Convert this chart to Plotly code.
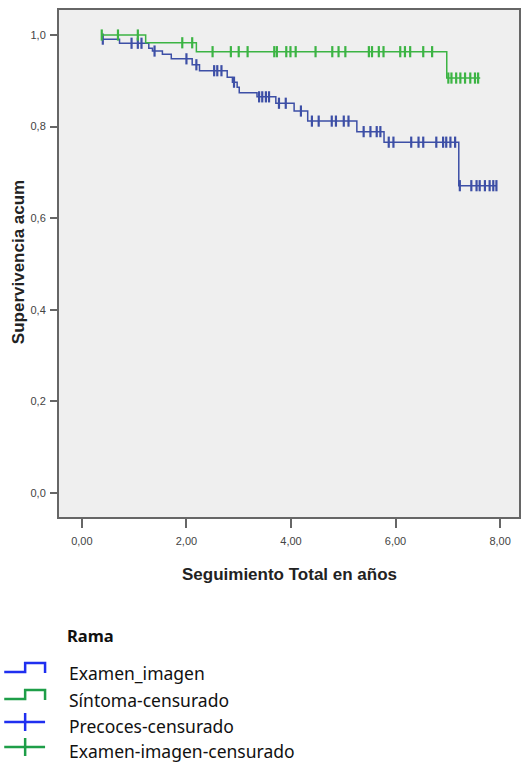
import plotly.graph_objects as go

# ---------------- data ----------------
# Examen_imagen (blue) Kaplan-Meier steps
blue_times = [0.38, 0.72, 1.28, 1.35, 1.54, 1.71, 2.11, 2.25, 2.78, 2.88, 2.97, 3.01,
              3.35, 3.71, 4.06, 4.32, 5.26, 5.78, 7.21]
blue_surv = [0.991, 0.982, 0.971, 0.965, 0.958, 0.948, 0.935, 0.922, 0.908, 0.897, 0.886, 0.874,
             0.865, 0.851, 0.834, 0.812, 0.789, 0.766, 0.671]
blue_end = 7.93
blue_censored = [0.40, 0.95, 1.07, 1.14, 1.39, 2.00, 2.19, 2.53, 2.59, 2.67, 2.91, 3.39, 3.45,
                 3.52, 3.58, 3.77, 3.90, 4.19, 4.40, 4.53, 4.78, 4.86, 5.01, 5.10, 5.39, 5.52,
                 5.64, 5.71, 5.87, 5.96, 6.30, 6.44, 6.53, 6.78, 6.91, 6.97, 7.05, 7.14, 7.23,
                 7.45, 7.55, 7.61, 7.71, 7.80, 7.87, 7.93]

# Síntoma (green) Kaplan-Meier steps
green_times = [0.38, 1.22, 2.19, 6.98]
green_surv = [1.0, 0.983, 0.9636, 0.906]
green_end = 7.62
green_censored = [0.38, 0.69, 1.07, 1.92, 2.11, 2.50, 2.85, 3.00, 3.17, 3.68, 3.73, 3.91, 3.99,
                  4.09, 4.47, 4.79, 4.91, 5.04, 5.49, 5.55, 5.68, 5.77, 6.09, 6.18, 6.28, 6.53,
                  6.70, 7.01, 7.07, 7.16, 7.24, 7.33, 7.43, 7.52, 7.58]

y_ticks = [0.0, 0.2, 0.4, 0.6, 0.8, 1.0]
y_ticktext = ["0,0", "0,2", "0,4", "0,6", "0,8", "1,0"]
x_ticks = [0, 2, 4, 6, 8]
x_ticktext = ["0,00", "2,00", "4,00", "6,00", "8,00"]

legend_title = "Rama"
legend_labels = ["Examen_imagen", "Síntoma-censurado", "Precoces-censurado", "Examen-imagen-censurado"]

# ---------------- styles ----------------
BLUE = "#3d4fa6"
GREEN = "#3cb444"
LEG_BLUE = "#1f2ff0"
LEG_GREEN = "#1e9e48"
AXFONT = "Liberation Sans Narrow, Liberation Sans, sans-serif"


def step_value(times, surv, t):
    v = surv[0]
    for ti, si in zip(times, surv):
        if t >= ti:
            v = si
    return v


fig = go.Figure()

for times, surv, end, cens, col in [
    (blue_times, blue_surv, blue_end, blue_censored, BLUE),
    (green_times, green_surv, green_end, green_censored, GREEN),
]:
    fig.add_trace(go.Scatter(
        x=times + [end], y=surv + [surv[-1]], mode="lines",
        line=dict(color=col, width=1.5, shape="hv"), showlegend=False, hoverinfo="skip"))
    fig.add_trace(go.Scatter(
        x=cens, y=[step_value(times, surv, t) for t in cens], mode="markers",
        marker=dict(symbol="line-ns", size=8, line=dict(color=col, width=2.2)),
        showlegend=False, hoverinfo="skip"))

# plot area in pixels
L, R, T, B = 59, 521, 10, 517
W, H = 524, 763


def px(x):
    return (x - L) / (R - L)


def py(y):
    return (B - y) / (B - T)


shapes = []
annotations = []

# legend title
annotations.append(dict(x=px(65), y=py(635), xref="paper", yref="paper", text="<b>%s</b>" % legend_title,
                        showarrow=False, xanchor="left", yanchor="middle",
                        font=dict(family="Noto Sans", size=16.5, color="#111")))

leg_rows = [673, 700, 726, 751]
leg_cols = [LEG_BLUE, LEG_GREEN, LEG_BLUE, LEG_GREEN]
for i, (lab, yc, col) in enumerate(zip(legend_labels, leg_rows, leg_cols)):
    annotations.append(dict(x=px(67), y=py(yc), xref="paper", yref="paper", text=lab,
                            showarrow=False, xanchor="left", yanchor="middle",
                            font=dict(family="Noto Sans", size=17.5, color="#111")))
    if i < 2:
        path = "M %f %f L %f %f L %f %f L %f %f L %f %f" % (
            px(4), py(yc - 1), px(25), py(yc - 1), px(25), py(yc - 10), px(45), py(yc - 10), px(45), py(yc))
        shapes.append(dict(type="path", path=path, xref="paper", yref="paper",
                           line=dict(color=col, width=2.5)))
    else:
        yy = yc - 4
        shapes.append(dict(type="line", x0=px(4), x1=px(45), y0=py(yy), y1=py(yy),
                           xref="paper", yref="paper", line=dict(color=col, width=2.5)))
        shapes.append(dict(type="line", x0=px(25), x1=px(25), y0=py(yy - 9), y1=py(yy + 9),
                           xref="paper", yref="paper", line=dict(color=col, width=2.5)))

# axis titles
annotations.append(dict(x=px(291), y=py(574), xref="paper", yref="paper",
                        text="<b>Seguimiento Total en años</b>", showarrow=False,
                        xanchor="center", yanchor="middle",
                        font=dict(family=AXFONT, size=17, color="#222")))
annotations.append(dict(x=px(18), y=py(262), xref="paper", yref="paper",
                        text="<b>Supervivencia acum</b>", showarrow=False, textangle=-90,
                        xanchor="center", yanchor="middle",
                        font=dict(family=AXFONT, size=17, color="#222")))

fig.update_layout(
    width=W, height=H,
    margin=dict(l=L, r=W - R, t=T, b=H - B),
    paper_bgcolor="white",
    plot_bgcolor="#efefef",
    shapes=shapes,
    annotations=annotations,
    showlegend=False,
    xaxis=dict(range=[-0.438, 8.362], tickvals=x_ticks, ticktext=x_ticktext,
               showgrid=False, zeroline=False, showline=True, mirror=True,
               linecolor="#666", linewidth=2, ticks="outside", ticklen=9, tickwidth=2,
               tickcolor="#666", ticklabelstandoff=4,
               tickfont=dict(family=AXFONT, size=11, color="#444")),
    yaxis=dict(range=[-0.0524, 1.0546], tickvals=y_ticks, ticktext=y_ticktext,
               showgrid=False, zeroline=False, showline=True, mirror=True,
               linecolor="#666", linewidth=2, ticks="outside", ticklen=7, tickwidth=2,
               tickcolor="#666", ticklabelstandoff=2,
               tickfont=dict(family=AXFONT, size=11, color="#444")),
)

fig.write_html("out.html", config={"displayModeBar": False},
               post_script="document.body.style.margin='0';document.body.style.padding='0';")
